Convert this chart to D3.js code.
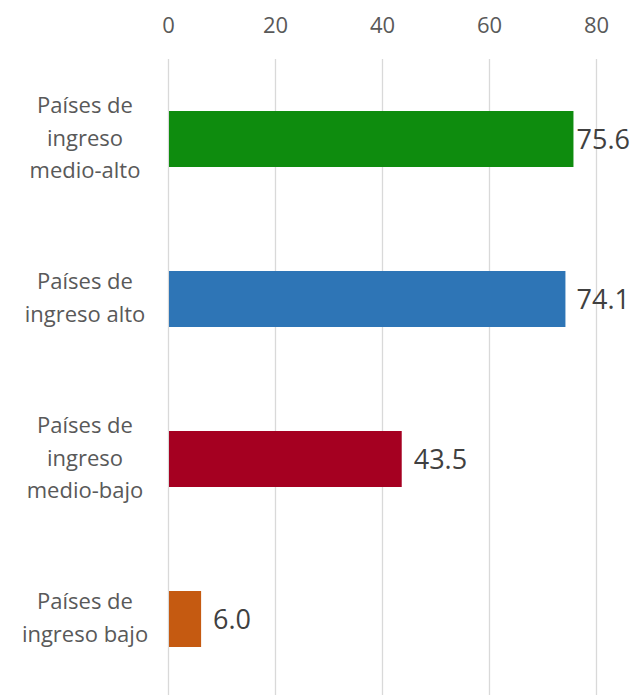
<!DOCTYPE html>
<html>
<head>
<meta charset="utf-8">
<script src="https://cdn.jsdelivr.net/npm/d3@7"></script>
<style>
  body { margin: 0; background: #fff; }
  svg { display: block; font-family: "Open Sans", "Noto Sans", sans-serif; }
</style>
</head>
<body>
<svg id="svg"></svg>
<script>
// data
const categories = [
  ["Países de", "ingreso", "medio-alto"],
  ["Países de", "ingreso alto"],
  ["Países de", "ingreso", "medio-bajo"],
  ["Países de", "ingreso bajo"]
];
const values = [75.6, 74.1, 43.5, 6.0];
const barColors = ["#0e8c0e", "#2e75b6", "#a50021", "#c55a11"];
const tickValues = [0, 20, 40, 60, 80];

const w = 633;
const h = 695;

const svg = d3.select("#svg")
  .attr("width", w)
  .attr("height", h);

const x = d3.scaleLinear()
  .domain([0, 80])
  .range([168, 596]);

const y = d3.scaleBand()
  .domain(d3.range(values.length))
  .range([59, 699])
  .paddingInner(0.65)
  .paddingOuter(0.325);

// gridlines + top tick labels
const xAxis = svg.append("g")
  .attr("transform", "translate(0,59)")
  .call(d3.axisTop(x).tickValues(tickValues).tickSize(-(699 - 59)).tickPadding(26));

xAxis.select(".domain").remove();
xAxis.selectAll(".tick line").attr("stroke", "#d9d9d9").attr("stroke-width", 1.3);
xAxis.selectAll(".tick text")
  .attr("fill", "#595959")
  .style("font-size", "22px")
  .style("font-family", "'Open Sans', 'Noto Sans', sans-serif");

// bars
svg.selectAll("rect.bar")
  .data(values)
  .enter()
  .append("rect")
  .attr("class", "bar")
  .attr("x", x(0) + 1)
  .attr("y", (d, i) => y(i))
  .attr("width", d => x(d) - x(0))
  .attr("height", y.bandwidth())
  .attr("fill", (d, i) => barColors[i]);

// value labels
svg.selectAll("text.val")
  .data(values)
  .enter()
  .append("text")
  .attr("class", "val")
  .attr("x", d => x(d) + 13)
  .attr("y", (d, i) => y(i) + y.bandwidth() / 2)
  .attr("dy", "0.36em")
  .attr("fill", "#404040")
  .style("font-size", "27px")
  .text(d => d.toFixed(1))
  .each(function () {
    // keep the label inside the picture
    const len = this.getComputedTextLength();
    const xs = +d3.select(this).attr("x");
    if (xs + len > w - 3) d3.select(this).attr("x", w - 3 - len);
  });

// category labels
const lineH = 32.5;
const cat = svg.selectAll("text.cat")
  .data(categories)
  .enter()
  .append("text")
  .attr("class", "cat")
  .attr("text-anchor", "middle")
  .attr("fill", "#595959")
  .style("font-size", "22px");

cat.each(function (lines, i) {
  const cy = y(i) + y.bandwidth() / 2;
  const top = cy - (lines.length - 1) * lineH / 2;
  d3.select(this).selectAll("tspan")
    .data(lines)
    .enter()
    .append("tspan")
    .attr("x", 85)
    .attr("y", (d, j) => top + j * lineH)
    .attr("dy", "0.3em")
    .text(d => d);
});
</script>
</body>
</html>
